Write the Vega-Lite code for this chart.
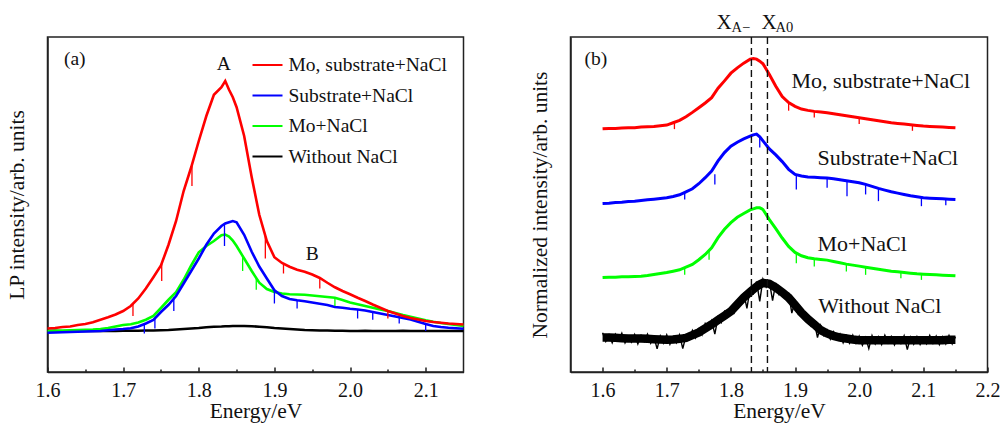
{
"$schema":"https://vega.github.io/schema/vega-lite/v6.json",
"padding":{"left":5.5,"top":11,"right":0,"bottom":0},
"datasets":{
"m":[
{"x":1.60,"ar":0.010,"ab":-0.007,"ag":0.000,"ak":0.000,"br":7.26,"bb":5.03,"bg":2.82,"bk":1.03},
{"x":1.61,"ar":0.012,"ab":-0.006,"ag":0.001,"ak":0.001,"br":7.27,"bb":5.04,"bg":2.83,"bk":1.03},
{"x":1.62,"ar":0.016,"ab":-0.005,"ag":0.002,"ak":-0.001,"br":7.27,"bb":5.06,"bg":2.83,"bk":1.02},
{"x":1.63,"ar":0.018,"ab":-0.004,"ag":0.003,"ak":0.000,"br":7.28,"bb":5.07,"bg":2.84,"bk":1.01},
{"x":1.64,"ar":0.024,"ab":-0.003,"ag":0.004,"ak":0.001,"br":7.29,"bb":5.09,"bg":2.84,"bk":1.00},
{"x":1.65,"ar":0.028,"ab":-0.002,"ag":0.005,"ak":0.000,"br":7.29,"bb":5.10,"bg":2.85,"bk":1.00},
{"x":1.66,"ar":0.035,"ab":-0.001,"ag":0.006,"ak":0.000,"br":7.31,"bb":5.12,"bg":2.86,"bk":1.00},
{"x":1.67,"ar":0.045,"ab":0.000,"ag":0.008,"ak":0.001,"br":7.32,"bb":5.14,"bg":2.88,"bk":0.99},
{"x":1.68,"ar":0.055,"ab":0.003,"ag":0.012,"ak":0.000,"br":7.33,"bb":5.16,"bg":2.91,"bk":0.98},
{"x":1.69,"ar":0.066,"ab":0.006,"ag":0.018,"ak":0.000,"br":7.35,"bb":5.18,"bg":2.94,"bk":0.97},
{"x":1.70,"ar":0.080,"ab":0.008,"ag":0.024,"ak":0.001,"br":7.37,"bb":5.20,"bg":2.97,"bk":0.96},
{"x":1.71,"ar":0.100,"ab":0.011,"ag":0.027,"ak":0.001,"br":7.44,"bb":5.24,"bg":3.01,"bk":0.97},
{"x":1.72,"ar":0.130,"ab":0.018,"ag":0.034,"ak":0.001,"br":7.51,"bb":5.29,"bg":3.05,"bk":0.99},
{"x":1.73,"ar":0.170,"ab":0.030,"ag":0.045,"ak":0.002,"br":7.62,"bb":5.38,"bg":3.13,"bk":1.02},
{"x":1.74,"ar":0.215,"ab":0.044,"ag":0.060,"ak":0.002,"br":7.75,"bb":5.47,"bg":3.21,"bk":1.10},
{"x":1.75,"ar":0.262,"ab":0.076,"ag":0.092,"ak":0.003,"br":7.89,"bb":5.62,"bg":3.35,"bk":1.18},
{"x":1.76,"ar":0.345,"ab":0.105,"ag":0.125,"ak":0.004,"br":8.03,"bb":5.80,"bg":3.51,"bk":1.30},
{"x":1.77,"ar":0.440,"ab":0.140,"ag":0.155,"ak":0.006,"br":8.19,"bb":6.00,"bg":3.71,"bk":1.42},
{"x":1.78,"ar":0.560,"ab":0.190,"ag":0.205,"ak":0.008,"br":8.47,"bb":6.30,"bg":4.01,"bk":1.55},
{"x":1.79,"ar":0.655,"ab":0.240,"ag":0.262,"ak":0.010,"br":8.69,"bb":6.55,"bg":4.26,"bk":1.68},
{"x":1.80,"ar":0.760,"ab":0.290,"ag":0.315,"ak":0.012,"br":8.92,"bb":6.74,"bg":4.46,"bk":1.81},
{"x":1.81,"ar":0.860,"ab":0.345,"ag":0.340,"ak":0.015,"br":9.08,"bb":6.86,"bg":4.62,"bk":2.02},
{"x":1.82,"ar":0.945,"ab":0.390,"ag":0.360,"ak":0.017,"br":9.22,"bb":6.96,"bg":4.73,"bk":2.22},
{"x":1.83,"ar":0.975,"ab":0.420,"ag":0.383,"ak":0.018,"br":9.34,"bb":7.04,"bg":4.84,"bk":2.39},
{"x":1.835,"ar":1.000,"ab":0.430,"ag":0.386,"ak":0.019,"br":9.36,"bb":7.08,"bg":4.87,"bk":2.47},
{"x":1.84,"ar":0.965,"ab":0.435,"ag":0.378,"ak":0.019,"br":9.34,"bb":7.10,"bg":4.90,"bk":2.55},
{"x":1.845,"ar":0.935,"ab":0.440,"ag":0.362,"ak":0.020,"br":9.28,"bb":7.02,"bg":4.90,"bk":2.61},
{"x":1.85,"ar":0.895,"ab":0.435,"ag":0.340,"ak":0.020,"br":9.20,"bb":6.90,"bg":4.85,"bk":2.66},
{"x":1.86,"ar":0.780,"ab":0.385,"ag":0.290,"ak":0.020,"br":8.88,"bb":6.66,"bg":4.55,"bk":2.63},
{"x":1.87,"ar":0.615,"ab":0.317,"ag":0.240,"ak":0.019,"br":8.53,"bb":6.48,"bg":4.28,"bk":2.52},
{"x":1.88,"ar":0.465,"ab":0.258,"ag":0.193,"ak":0.017,"br":8.22,"bb":6.28,"bg":4.00,"bk":2.38},
{"x":1.89,"ar":0.360,"ab":0.210,"ag":0.168,"ak":0.015,"br":8.04,"bb":6.05,"bg":3.75,"bk":2.22},
{"x":1.90,"ar":0.295,"ab":0.163,"ag":0.156,"ak":0.012,"br":7.93,"bb":5.90,"bg":3.57,"bk":2.00},
{"x":1.91,"ar":0.272,"ab":0.140,"ag":0.150,"ak":0.010,"br":7.85,"bb":5.85,"bg":3.47,"bk":1.77},
{"x":1.92,"ar":0.257,"ab":0.128,"ag":0.147,"ak":0.008,"br":7.81,"bb":5.82,"bg":3.41,"bk":1.58},
{"x":1.93,"ar":0.245,"ab":0.123,"ag":0.146,"ak":0.006,"br":7.78,"bb":5.81,"bg":3.38,"bk":1.42},
{"x":1.94,"ar":0.237,"ab":0.119,"ag":0.145,"ak":0.004,"br":7.76,"bb":5.80,"bg":3.36,"bk":1.25},
{"x":1.95,"ar":0.226,"ab":0.114,"ag":0.142,"ak":0.003,"br":7.74,"bb":5.79,"bg":3.34,"bk":1.15},
{"x":1.96,"ar":0.212,"ab":0.109,"ag":0.139,"ak":0.002,"br":7.71,"bb":5.77,"bg":3.30,"bk":1.08},
{"x":1.97,"ar":0.193,"ab":0.104,"ag":0.136,"ak":0.002,"br":7.68,"bb":5.74,"bg":3.26,"bk":1.03},
{"x":1.98,"ar":0.175,"ab":0.096,"ag":0.133,"ak":0.001,"br":7.65,"bb":5.71,"bg":3.22,"bk":1.00},
{"x":1.99,"ar":0.160,"ab":0.093,"ag":0.124,"ak":0.001,"br":7.62,"bb":5.68,"bg":3.19,"bk":0.97},
{"x":2.00,"ar":0.147,"ab":0.089,"ag":0.114,"ak":0.000,"br":7.59,"bb":5.65,"bg":3.16,"bk":0.95},
{"x":2.01,"ar":0.133,"ab":0.086,"ag":0.107,"ak":0.000,"br":7.56,"bb":5.60,"bg":3.13,"bk":0.95},
{"x":2.02,"ar":0.120,"ab":0.082,"ag":0.100,"ak":0.001,"br":7.53,"bb":5.54,"bg":3.10,"bk":0.95},
{"x":2.03,"ar":0.106,"ab":0.076,"ag":0.093,"ak":0.000,"br":7.50,"bb":5.48,"bg":3.07,"bk":0.95},
{"x":2.04,"ar":0.093,"ab":0.070,"ag":0.086,"ak":0.000,"br":7.47,"bb":5.43,"bg":3.04,"bk":0.95},
{"x":2.05,"ar":0.080,"ab":0.064,"ag":0.080,"ak":0.000,"br":7.44,"bb":5.38,"bg":3.01,"bk":0.95},
{"x":2.06,"ar":0.070,"ab":0.058,"ag":0.072,"ak":0.000,"br":7.42,"bb":5.34,"bg":2.99,"bk":0.95},
{"x":2.07,"ar":0.060,"ab":0.052,"ag":0.064,"ak":0.001,"br":7.40,"bb":5.30,"bg":2.97,"bk":0.95},
{"x":2.08,"ar":0.052,"ab":0.046,"ag":0.057,"ak":0.000,"br":7.38,"bb":5.26,"bg":2.95,"bk":0.95},
{"x":2.09,"ar":0.046,"ab":0.037,"ag":0.050,"ak":0.000,"br":7.36,"bb":5.23,"bg":2.93,"bk":0.95},
{"x":2.10,"ar":0.040,"ab":0.028,"ag":0.043,"ak":0.000,"br":7.34,"bb":5.20,"bg":2.92,"bk":0.95},
{"x":2.11,"ar":0.036,"ab":0.020,"ag":0.037,"ak":0.000,"br":7.33,"bb":5.19,"bg":2.91,"bk":0.95},
{"x":2.12,"ar":0.033,"ab":0.016,"ag":0.032,"ak":0.000,"br":7.32,"bb":5.18,"bg":2.90,"bk":0.95},
{"x":2.13,"ar":0.030,"ab":0.013,"ag":0.028,"ak":0.000,"br":7.31,"bb":5.17,"bg":2.89,"bk":0.95},
{"x":2.14,"ar":0.028,"ab":0.011,"ag":0.024,"ak":0.000,"br":7.30,"bb":5.16,"bg":2.88,"bk":0.96},
{"x":2.15,"ar":0.026,"ab":0.009,"ag":0.020,"ak":0.000,"br":7.29,"bb":5.15,"bg":2.87,"bk":0.96}
],
"kb":[
{"x":1.600,"y":1.17},{"x":1.605,"y":0.91},{"x":1.610,"y":1.11},{"x":1.615,"y":0.87},{"x":1.620,"y":1.13},
{"x":1.625,"y":0.95},{"x":1.630,"y":1.16},{"x":1.635,"y":0.87},{"x":1.640,"y":1.05},{"x":1.645,"y":0.89},
{"x":1.650,"y":1.12},{"x":1.655,"y":0.84},{"x":1.660,"y":1.09},{"x":1.665,"y":0.91},{"x":1.670,"y":1.13},
{"x":1.675,"y":0.86},{"x":1.680,"y":1.05},{"x":1.685,"y":0.69},{"x":1.690,"y":1.08},{"x":1.695,"y":0.86},
{"x":1.700,"y":1.11},{"x":1.705,"y":0.83},{"x":1.710,"y":1.05},{"x":1.715,"y":0.87},{"x":1.720,"y":1.11},
{"x":1.725,"y":0.70},{"x":1.730,"y":1.08},{"x":1.735,"y":0.97},{"x":1.740,"y":1.24},{"x":1.745,"y":1.02},
{"x":1.750,"y":1.28},{"x":1.755,"y":1.11},{"x":1.760,"y":1.45},{"x":1.765,"y":1.29},{"x":1.770,"y":1.53},
{"x":1.775,"y":1.13},{"x":1.780,"y":1.64},{"x":1.785,"y":1.48},{"x":1.790,"y":1.81},{"x":1.795,"y":1.65},
{"x":1.800,"y":1.93},{"x":1.805,"y":1.77},{"x":1.810,"y":2.10},{"x":1.815,"y":2.01},{"x":1.820,"y":2.36},
{"x":1.825,"y":1.90},{"x":1.830,"y":2.49},{"x":1.835,"y":2.34},{"x":1.840,"y":2.70},{"x":1.845,"y":2.11},
{"x":1.850,"y":2.77},{"x":1.855,"y":2.53},{"x":1.860,"y":2.70},{"x":1.865,"y":2.13},{"x":1.870,"y":2.66},
{"x":1.875,"y":2.32},{"x":1.880,"y":2.47},{"x":1.885,"y":2.19},{"x":1.890,"y":2.34},{"x":1.895,"y":1.76},
{"x":1.900,"y":2.10},{"x":1.905,"y":1.74},{"x":1.910,"y":1.90},{"x":1.915,"y":1.58},{"x":1.920,"y":1.69},
{"x":1.925,"y":1.38},{"x":1.930,"y":1.50},{"x":1.935,"y":1.03},{"x":1.940,"y":1.39},{"x":1.945,"y":1.09},
{"x":1.950,"y":1.25},{"x":1.955,"y":0.98},{"x":1.960,"y":1.20},{"x":1.965,"y":0.97},{"x":1.970,"y":1.14},
{"x":1.975,"y":0.87},{"x":1.980,"y":1.09},{"x":1.985,"y":0.86},{"x":1.990,"y":1.10},{"x":1.995,"y":0.86},
{"x":2.000,"y":1.07},{"x":2.005,"y":0.80},{"x":2.010,"y":1.03},{"x":2.015,"y":0.70},{"x":2.020,"y":1.09},
{"x":2.025,"y":0.84},{"x":2.030,"y":1.05},{"x":2.035,"y":0.82},{"x":2.040,"y":1.10},{"x":2.045,"y":0.87},
{"x":2.050,"y":1.06},{"x":2.055,"y":0.81},{"x":2.060,"y":1.02},{"x":2.065,"y":0.85},{"x":2.070,"y":1.08},
{"x":2.075,"y":0.67},{"x":2.080,"y":1.04},{"x":2.085,"y":0.83},{"x":2.090,"y":1.06},{"x":2.095,"y":0.82},
{"x":2.100,"y":1.03},{"x":2.105,"y":0.84},{"x":2.110,"y":1.09},{"x":2.115,"y":0.86},{"x":2.120,"y":1.07},
{"x":2.125,"y":0.82},{"x":2.130,"y":1.05},{"x":2.135,"y":0.84},{"x":2.140,"y":1.09},{"x":2.145,"y":0.84},
{"x":2.150,"y":1.05}
],
"spa":[
{"x":1.713,"y":0.11,"y2":0.06,"s":"ar"},{"x":1.751,"y":0.27,"y2":0.20,"s":"ar"},{"x":1.791,"y":0.66,"y2":0.58,"s":"ar"},
{"x":1.888,"y":0.38,"y2":0.29,"s":"ar"},{"x":1.912,"y":0.27,"y2":0.23,"s":"ar"},{"x":1.96,"y":0.21,"y2":0.17,"s":"ar"},{"x":2.05,"y":0.08,"y2":0.05,"s":"ar"},
{"x":1.728,"y":0.028,"y2":-0.01,"s":"ab"},{"x":1.742,"y":0.05,"y2":0.01,"s":"ab"},{"x":1.767,"y":0.135,"y2":0.08,"s":"ab"},
{"x":1.834,"y":0.43,"y2":0.34,"s":"ab"},{"x":1.90,"y":0.163,"y2":0.11,"s":"ab"},{"x":1.93,"y":0.123,"y2":0.09,"s":"ab"},
{"x":2.01,"y":0.086,"y2":0.05,"s":"ab"},{"x":2.03,"y":0.076,"y2":0.045,"s":"ab"},{"x":2.065,"y":0.055,"y2":0.03,"s":"ab"},{"x":2.10,"y":0.028,"y2":0.0,"s":"ab"},
{"x":1.858,"y":0.30,"y2":0.24,"s":"ag"},{"x":1.876,"y":0.21,"y2":0.165,"s":"ag"},{"x":1.98,"y":0.133,"y2":0.10,"s":"ag"}
],
"spb":[
{"x":1.728,"y":5.37,"y2":5.15,"s":"bb"},{"x":1.775,"y":5.9,"y2":5.6,"s":"bb"},{"x":1.845,"y":7.0,"y2":6.7,"s":"bb"},
{"x":1.902,"y":5.89,"y2":5.45,"s":"bb"},{"x":1.95,"y":5.79,"y2":5.5,"s":"bb"},{"x":1.981,"y":5.71,"y2":5.25,"s":"bb"},
{"x":2.01,"y":5.6,"y2":5.3,"s":"bb"},{"x":2.03,"y":5.48,"y2":5.1,"s":"bb"},{"x":2.097,"y":5.21,"y2":4.95,"s":"bb"},{"x":2.135,"y":5.17,"y2":4.98,"s":"bb"},
{"x":1.728,"y":3.12,"y2":2.9,"s":"bg"},{"x":1.766,"y":3.65,"y2":3.35,"s":"bg"},{"x":1.902,"y":3.56,"y2":3.25,"s":"bg"},
{"x":1.93,"y":3.38,"y2":3.15,"s":"bg"},{"x":1.98,"y":3.22,"y2":3.0,"s":"bg"},{"x":2.01,"y":3.13,"y2":2.9,"s":"bg"},
{"x":2.065,"y":2.98,"y2":2.8,"s":"bg"},{"x":2.097,"y":2.93,"y2":2.75,"s":"bg"},
{"x":1.712,"y":7.45,"y2":7.25,"s":"br"},{"x":1.89,"y":8.03,"y2":7.8,"s":"br"},{"x":1.93,"y":7.78,"y2":7.6,"s":"br"},
{"x":2.0,"y":7.59,"y2":7.4,"s":"br"},{"x":2.083,"y":7.37,"y2":7.2,"s":"br"}
]
},
"hconcat":[
{
"width":416,"height":335,
"layer":[
{
"data":{"name":"m"},
"transform":[{"fold":["ak","ag","ab","ar"],"as":["s","v"]}],
"mark":{"type":"line","strokeWidth":2.6},
"encoding":{
"x":{"field":"x","type":"quantitative","scale":{"domain":[1.6,2.15],"nice":false,"zero":false},
"axis":{"values":[1.6,1.7,1.8,1.9,2.0,2.1],"format":".1f","tickSize":-5,"labelPadding":13,"labelFlush":false,"title":"Energy/eV","titlePadding":0}},
"y":{"field":"v","type":"quantitative","scale":{"domain":[-0.164,1.176],"nice":false,"zero":false},
"axis":{"title":"LP intensity/arb. units","labels":false,"ticks":false,"titlePadding":19}},
"color":{"field":"s","type":"nominal","scale":{"domain":["ar","ab","ag","ak"],"range":["#ff0000","#0000ff","#00ff00","#000000"]},
"legend":{"orient":"none","legendX":204,"legendY":12,"title":null,"symbolType":"stroke","symbolSize":900,"symbolStrokeWidth":2,"labelFontSize":19.5,"labelFont":"Liberation Serif","labelColor":"#111","labelLimit":400,"rowPadding":4.5,"labelOffset":5,"padding":0,
"labelExpr":"datum.label == 'ar' ? 'Mo, substrate+NaCl' : datum.label == 'ab' ? 'Substrate+NaCl' : datum.label == 'ag' ? 'Mo+NaCl' : 'Without NaCl'"}}
}
},
{
"data":{"name":"spa"},
"mark":{"type":"rule","strokeWidth":1.3},
"encoding":{
"x":{"field":"x","type":"quantitative","scale":{"domain":[1.6,2.15],"nice":false,"zero":false},"axis":null},
"y":{"field":"y","type":"quantitative","scale":{"domain":[-0.164,1.176],"nice":false,"zero":false},
"axis":{"title":"LP intensity/arb. units","labels":false,"ticks":false,"titlePadding":19}},
"y2":{"field":"y2"},
"color":{"field":"s","type":"nominal","scale":{"domain":["ar","ab","ag","ak"],"range":["#ff0000","#0000ff","#00ff00","#000000"]},"legend":null}
}
},
{
"data":{"values":[{"x":1.636,"y":1.088,"t":"(a)"},{"x":1.833,"y":1.07,"t":"A"},{"x":1.95,"y":0.31,"t":"B"}]},
"mark":{"type":"text","fontSize":19.5,"baseline":"middle","align":"center"},
"encoding":{
"x":{"field":"x","type":"quantitative","scale":{"domain":[1.6,2.15],"nice":false,"zero":false},
"axis":{"orient":"bottom","values":[1.65,1.75,1.85,1.95,2.05],"labels":false,"domain":false,"tickSize":-3,"title":null}},
"y":{"field":"y","type":"quantitative","scale":{"domain":[-0.164,1.176],"nice":false,"zero":false},
"axis":{"title":"LP intensity/arb. units","labels":false,"ticks":false,"titlePadding":19}},
"text":{"field":"t"}
}
}
],
"resolve":{"axis":{"x":"independent"}}
},
{
"width":417,"height":335,
"layer":[
{
"data":{"name":"m"},
"transform":[{"fold":["bg","bb","br"],"as":["s","v"]}],
"mark":{"type":"line","strokeWidth":3},
"encoding":{
"x":{"field":"x","type":"quantitative","scale":{"domain":[1.55,2.2],"nice":false,"zero":false},
"axis":{"values":[1.6,1.7,1.8,1.9,2.0,2.1,2.2],"format":".1f","tickSize":-5,"labelPadding":13,"labelFlush":false,"title":"Energy/eV","titlePadding":0}},
"y":{"field":"v","type":"quantitative","scale":{"domain":[0,10],"nice":false,"zero":false},
"axis":{"title":"Normalized intensity/arb. units","labels":false,"ticks":false,"titlePadding":19}},
"color":{"field":"s","type":"nominal","scale":{"domain":["br","bb","bg"],"range":["#ff0000","#0000ff","#00ff00"]},"legend":null}
}
},
{
"data":{"name":"spb"},
"mark":{"type":"rule","strokeWidth":1.3},
"encoding":{
"x":{"field":"x","type":"quantitative","scale":{"domain":[1.55,2.2],"nice":false,"zero":false},"axis":null},
"y":{"field":"y","type":"quantitative","scale":{"domain":[0,10],"nice":false,"zero":false},
"axis":{"title":"Normalized intensity/arb. units","labels":false,"ticks":false,"titlePadding":19}},
"y2":{"field":"y2"},
"color":{"field":"s","type":"nominal","scale":{"domain":["br","bb","bg"],"range":["#ff0000","#0000ff","#00ff00"]},"legend":null}
}
},
{
"data":{"name":"m"},
"mark":{"type":"line","strokeWidth":8.5,"color":"#000000"},
"encoding":{
"x":{"field":"x","type":"quantitative","scale":{"domain":[1.55,2.2],"nice":false,"zero":false},"axis":null},
"y":{"field":"bk","type":"quantitative","scale":{"domain":[0,10],"nice":false,"zero":false},
"axis":{"title":"Normalized intensity/arb. units","labels":false,"ticks":false,"titlePadding":19}}
}
},
{
"data":{"name":"kb"},
"mark":{"type":"line","strokeWidth":1.4,"color":"#000000"},
"encoding":{
"x":{"field":"x","type":"quantitative","scale":{"domain":[1.55,2.2],"nice":false,"zero":false},"axis":null},
"y":{"field":"y","type":"quantitative","scale":{"domain":[0,10],"nice":false,"zero":false},
"axis":{"title":"Normalized intensity/arb. units","labels":false,"ticks":false,"titlePadding":19}}
}
},
{
"data":{"values":[{"e":1.832},{"e":1.857}]},
"mark":{"type":"rule","strokeDash":[7,4],"strokeWidth":1.4,"color":"#111"},
"encoding":{
"x":{"field":"e","type":"quantitative","scale":{"domain":[1.55,2.2],"nice":false,"zero":false},
"axis":{"orient":"bottom","values":[1.65,1.75,1.85,1.95,2.05,2.15],"labels":false,"domain":false,"tickSize":-3,"title":null}}
}
},
{
"data":{"values":[{"x":1.5718,"y":9.34,"t":"(b)"}]},
"mark":{"type":"text","fontSize":19.5,"baseline":"middle","align":"left"},
"encoding":{
"x":{"field":"x","type":"quantitative","scale":{"domain":[1.55,2.2],"nice":false,"zero":false},"axis":null},
"y":{"field":"y","type":"quantitative","scale":{"domain":[0,10],"nice":false,"zero":false},
"axis":{"title":"Normalized intensity/arb. units","labels":false,"ticks":false,"titlePadding":19}},
"text":{"field":"t"}
}
},
{
"data":{"values":[{"x":1.8945,"y":8.69,"t":"Mo, substrate+NaCl"},{"x":1.935,"y":6.39,"t":"Substrate+NaCl"},{"x":1.935,"y":3.82,"t":"Mo+NaCl"},{"x":1.936,"y":1.97,"t":"Without NaCl"}]},
"mark":{"type":"text","fontSize":22,"baseline":"middle","align":"left"},
"encoding":{
"x":{"field":"x","type":"quantitative","scale":{"domain":[1.55,2.2],"nice":false,"zero":false},"axis":null},
"y":{"field":"y","type":"quantitative","scale":{"domain":[0,10],"nice":false,"zero":false},
"axis":{"title":"Normalized intensity/arb. units","labels":false,"ticks":false,"titlePadding":19}},
"text":{"field":"t"}
}
},
{
"data":{"values":[{"x":1.7776,"y":10.24,"t":"X"},{"x":1.8477,"y":10.24,"t":"X"}]},
"mark":{"type":"text","fontSize":21,"baseline":"alphabetic","align":"left"},
"encoding":{
"x":{"field":"x","type":"quantitative","scale":{"domain":[1.55,2.2],"nice":false,"zero":false},"axis":null},
"y":{"field":"y","type":"quantitative","scale":{"domain":[0,10],"nice":false,"zero":false},
"axis":{"title":"Normalized intensity/arb. units","labels":false,"ticks":false,"titlePadding":19}},
"text":{"field":"t"}
}
},
{
"data":{"values":[{"x":1.801,"y":10.15,"t":"A−"},{"x":1.8695,"y":10.15,"t":"A0"}]},
"mark":{"type":"text","fontSize":14.5,"baseline":"alphabetic","align":"left"},
"encoding":{
"x":{"field":"x","type":"quantitative","scale":{"domain":[1.55,2.2],"nice":false,"zero":false},"axis":null},
"y":{"field":"y","type":"quantitative","scale":{"domain":[0,10],"nice":false,"zero":false},
"axis":{"title":"Normalized intensity/arb. units","labels":false,"ticks":false,"titlePadding":19}},
"text":{"field":"t"}
}
}
],
"resolve":{"axis":{"x":"independent"}}
}
],
"spacing":107,
"bounds":"flush",
"resolve":{"scale":{"color":"independent"}},
"config":{
"view":{"stroke":"#222","strokeWidth":1.5},
"font":"Liberation Serif",
"axis":{"labelFont":"Liberation Serif","titleFont":"Liberation Serif","labelFontSize":20,"titleFontSize":21.5,"titleFontWeight":"normal","labelColor":"#111","titleColor":"#111","domainColor":"#222","domainWidth":1.5,"tickColor":"#222","tickWidth":1.5,"grid":false},
"legend":{"labelFont":"Liberation Serif"},
"text":{"font":"Liberation Serif","color":"#111"}
}
}
